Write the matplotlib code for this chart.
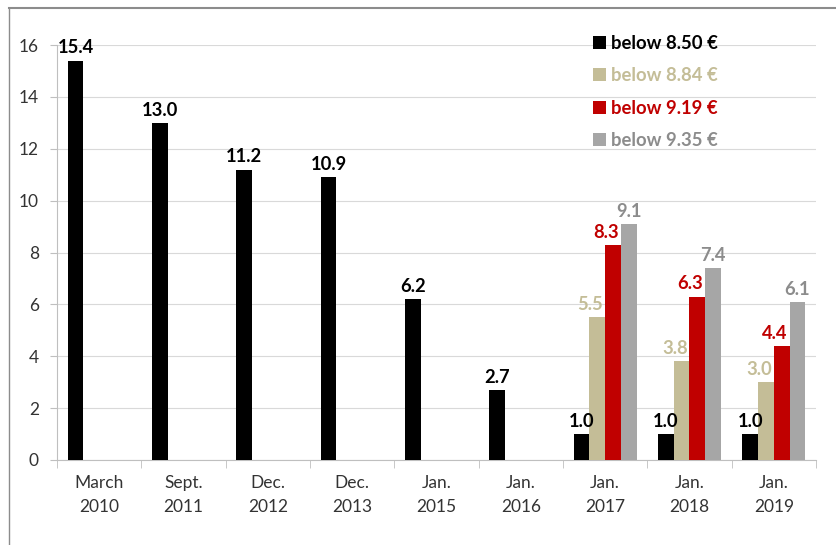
import numpy as np
import matplotlib.pyplot as plt
from matplotlib.patches import Patch
from matplotlib.lines import Line2D

# Share of jobs paid below each threshold (%)
dates = ['March\n2010', 'Sept.\n2011', 'Dec.\n2012', 'Dec.\n2013', 'Jan.\n2015',
         'Jan.\n2016', 'Jan.\n2017', 'Jan.\n2018', 'Jan.\n2019']
below_850 = [15.4, 13.0, 11.2, 10.9, 6.2, 2.7, 1.0, 1.0, 1.0]
below_884 = [None, None, None, None, None, None, 5.5, 3.8, 3.0]
below_919 = [None, None, None, None, None, None, 8.3, 6.3, 4.4]
below_935 = [None, None, None, None, None, None, 9.1, 7.4, 6.1]
series_names = ['below 8.50 €', 'below 8.84 €', 'below 9.19 €', 'below 9.35 €']

bar_colors = ['#000000', '#C4BD97', '#C00000', '#A6A6A6']
label_colors = ['#000000', '#C4BD97', '#C00000', '#8C8C8C']
label_dx = [0, -5, -5, 0]

plt.rcParams['font.family'] = ['Lato', 'DejaVu Sans']

fig = plt.figure(figsize=(8.37, 5.45), dpi=100)
ax = fig.add_axes([57/837, 1 - 460/545, (816-57)/837, (460-45)/545])

x = np.arange(len(dates)) + 0.5
w = 0.186
all_series = [below_850, below_884, below_919, below_935]
for k, vals in enumerate(all_series):
    pos = x + (k - 1.5) * w
    for xi, v in zip(pos, vals):
        if v is None:
            continue
        ax.bar(xi, v, width=w, color=bar_colors[k], edgecolor='none', zorder=3)
        ax.annotate(f'{v:.1f}', (xi, v), xytext=(label_dx[k], 3),
                    textcoords='offset points', ha='center', va='bottom',
                    fontsize=13.2, fontweight='bold', color=label_colors[k],
                    annotation_clip=False, zorder=4)

ax.set_xlim(0, len(dates))
ax.set_ylim(0, 16)
ax.set_yticks(range(0, 17, 2))
ax.set_xticks(x)
ax.set_xticklabels(dates, fontsize=12.5, color='#333333', linespacing=1.6)
ax.set_xticks(np.arange(len(dates) + 1), minor=True)
ax.tick_params(axis='x', which='major', length=0, pad=11)
ax.tick_params(axis='x', which='minor', length=6, color='#BFBFBF')
ax.tick_params(axis='y', length=5, color='#BFBFBF', labelsize=12.5,
               labelcolor='#333333', pad=8)

ax.grid(axis='y', color='#D9D9D9', lw=0.8, zorder=0)
ax.set_axisbelow(True)
for side in ['top', 'right']:
    ax.spines[side].set_visible(False)
for side in ['left', 'bottom']:
    ax.spines[side].set_color('#BFBFBF')

handles = [Patch(facecolor=c, edgecolor='none') for c in bar_colors]
leg = fig.legend(handles, series_names, loc='upper left',
                 bbox_to_anchor=(593/837, 1 - 35/545), frameon=False,
                 handlelength=0.7, handleheight=0.7, handletextpad=0.3,
                 labelspacing=0.83, borderpad=0, borderaxespad=0,
                 labelcolor=label_colors,
                 prop={'size': 13.3, 'weight': 'bold'})

# outer frame lines (top and left)
fig.add_artist(Line2D([9/837, 1], [1 - 8/545] * 2, color='#8C8C8C', lw=1.5,
                      transform=fig.transFigure))
fig.add_artist(Line2D([9/837] * 2, [0, 1 - 8/545], color='#8C8C8C', lw=1.0,
                      transform=fig.transFigure))

fig.savefig('out.png', dpi=100)
